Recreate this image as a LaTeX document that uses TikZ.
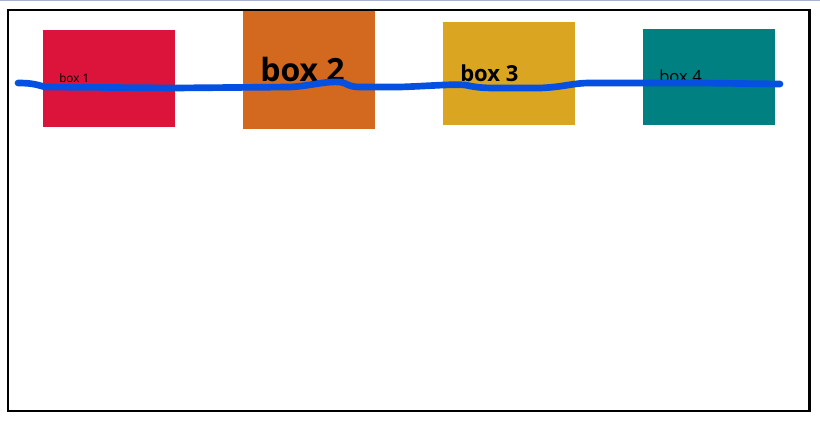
\documentclass[tikz,border=0pt]{standalone}
\usepackage{fontspec}
\setmainfont{Open Sans}
\usepackage{tikz}
\usetikzlibrary{positioning}
\definecolor{BoxCrimson}{HTML}{DC143C}
\definecolor{BoxChocolate}{HTML}{D2691E}
\definecolor{BoxGoldenrod}{HTML}{DAA520}
\definecolor{BoxTeal}{HTML}{008080}
\definecolor{InkBlue}{HTML}{0550E0}
\definecolor{EdgeGrey}{HTML}{A9B5CC}

\begin{document}
\begin{tikzpicture}[x=0.75pt,y=-0.75pt,
    boxlabel/.style={anchor=base west,inner sep=0pt,text=black}]
                \useasboundingbox (0,0) rectangle (820,442);
                \fill[EdgeGrey] (0,0) rectangle (820,1.4);
                \fill[BoxCrimson] (43,30) rectangle (175,127);
                \fill[BoxChocolate] (243,11) rectangle (375,129);
                \fill[BoxGoldenrod] (443,22) rectangle (575,125);
                \fill[BoxTeal] (643,29) rectangle (775,125);
                \node[boxlabel,font=\fontsize{8.8}{10}\selectfont] (lbl1) at (59,83) {box 1};
                \node[boxlabel,font=\fontsize{24}{30}\selectfont\bfseries] (lbl2) at (260,82) {box 2};
                \node[boxlabel,font=\fontsize{16.5}{22}\selectfont\bfseries] (lbl3) at (460,82) {box 3};
                \node[boxlabel,font=\fontsize{12.5}{15}\selectfont] (lbl4) at (659,83) {box 4};
                % freehand stroke across the boxes
                \draw[InkBlue,line width=5pt,line cap=round,line join=round]
                    (18,83) .. controls (30,83) and (35,84) .. (45,87)
                    -- (175,88) -- (290,87)
                    .. controls (310,86) and (325,81) .. (340,82)
                    .. controls (347,83) and (348,87) .. (360,87)
                    -- (400,87) .. controls (430,86) and (450,84) .. (465,85)
                    .. controls (475,87) and (480,88) .. (495,88)
                    -- (540,88) .. controls (565,87) and (572,83) .. (590,83)
                    -- (700,83) -- (780,84);
                \draw[line width=1.6pt] (8.3,10.3) rectangle (809.5,411.3);
            \end{tikzpicture}
\end{document}
